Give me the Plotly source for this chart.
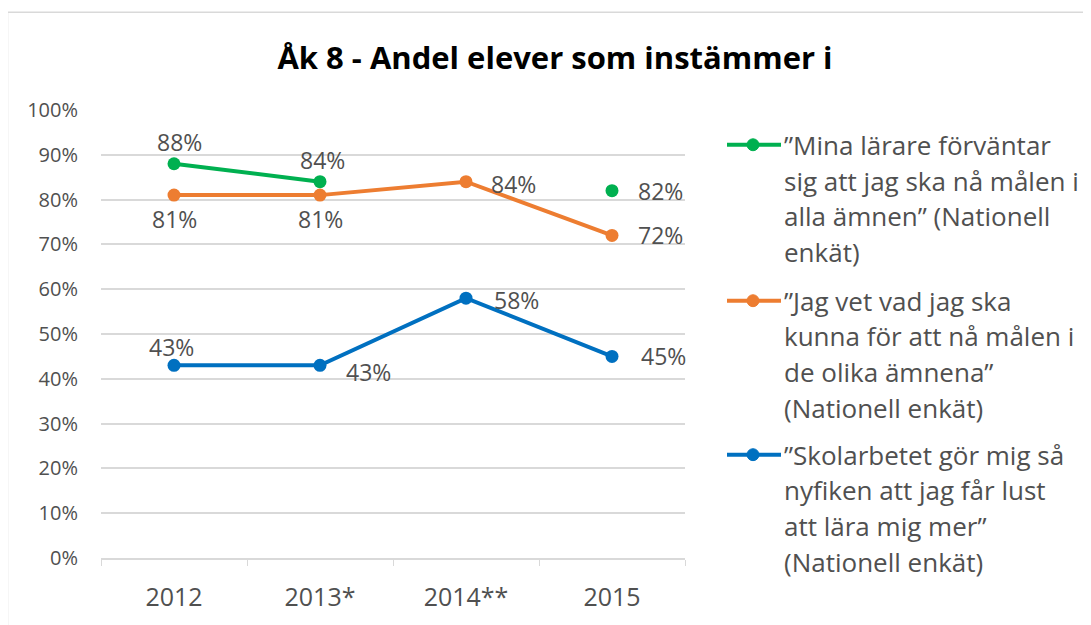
import plotly.graph_objects as go

categories = ["2012", "2013*", "2014**", "2015"]
green_vals = [88, 84, None, 82]
orange_vals = [81, 81, 84, 72]
blue_vals = [43, 43, 58, 45]
y_ticks = [0, 10, 20, 30, 40, 50, 60, 70, 80, 90, 100]
y_tick_labels = [f"{v}%" for v in y_ticks]

series_names = [
    "”Mina lärare förväntar<br>sig att jag ska nå målen i<br>alla ämnen” (Nationell<br>enkät)",
    "”Jag vet vad jag ska<br>kunna för att nå målen i<br>de olika ämnena”<br>(Nationell enkät)",
    "”Skolarbetet gör mig så<br>nyfiken att jag får lust<br>att lära mig mer”<br>(Nationell enkät)",
]
colors = ["#00b050", "#ed7d31", "#0070c0"]
# label placement per point: (side, dx, dy)
label_pos = [
    [("top", 5, 22), ("top", 2, 22), None, ("right", 24, 0)],
    [("bottom", 0, -24), ("bottom", 0, -24), ("right", 23, -2), ("right", 24, 0)],
    [("top", -3, 18), ("right", 24, -7), ("right", 26, -2), ("right", 27, 0)],
]
all_vals = [green_vals, orange_vals, blue_vals]

FONT = "Open Sans"
TXT = "#505050"
OFF = 8  # page body margin
W, H = 1091 - OFF, 625 - OFF
L, R, T, B = 101 - OFF, 685 - OFF, 110 - OFF, 561 - OFF

fig = go.Figure()
for vals, col, name in zip(all_vals, colors, series_names):
    fig.add_trace(go.Scatter(
        x=categories, y=vals, name=name,
        mode="lines+markers",
        line=dict(color=col, width=4),
        marker=dict(color=col, size=13),
        connectgaps=False,
        showlegend=False,
        cliponaxis=False,
    ))

def px2x(px):
    return (px - OFF - L) / (R - L)

def py2y(py):
    return (B - (py - OFF)) / (B - T)

shapes = []
annotations = []
# data labels
for vals, lp in zip(all_vals, label_pos):
    for idx, (v, p) in enumerate(zip(vals, lp)):
        if v is None or p is None:
            continue
        side, dx, dy = p
        annotations.append(dict(
            x=idx, y=v, xref="x", yref="y", text=f"{v}%", showarrow=False,
            xanchor="left" if side == "right" else "center", yanchor="middle",
            xshift=dx, yshift=dy, font=dict(family=FONT, size=23, color=TXT)))

# outer border
shapes.append(dict(type="rect", xref="paper", yref="paper",
                   x0=px2x(7.5), x1=px2x(1100), y0=py2y(640), y1=py2y(11.5),
                   line=dict(color="#d9d9d9", width=1.5), fillcolor="rgba(0,0,0,0)", layer="below"))

# manual legend
first_line_y = [145, 302, 457]
line_gap = 36
for name, col, y0 in zip(series_names, colors, first_line_y):
    shapes.append(dict(type="line", xref="paper", yref="paper",
                       x0=px2x(727), x1=px2x(781), y0=py2y(y0), y1=py2y(y0),
                       line=dict(color=col, width=4)))
    shapes.append(dict(type="circle", xref="paper", yref="paper",
                       x0=px2x(747), x1=px2x(759), y0=py2y(y0 + 6), y1=py2y(y0 - 6),
                       line=dict(color=col, width=1), fillcolor=col))
    for i, line in enumerate(name.split("<br>")):
        annotations.append(dict(xref="paper", yref="paper", x=px2x(782), y=py2y(y0 + i * line_gap),
                                text=line, showarrow=False, xanchor="left", yanchor="middle",
                                font=dict(family=FONT, size=26, color=TXT)))

fig.update_layout(
    width=W, height=H,
    margin=dict(l=L, r=W - R, t=T, b=H - B),
    paper_bgcolor="white", plot_bgcolor="white",
    title=dict(text="<b>Åk 8 - Andel elever som instämmer i</b>", x=(555 - OFF) / W, xanchor="center",
               y=1 - (58 - OFF) / H, yanchor="middle",
               font=dict(family=FONT, size=31, color="black")),
    font=dict(family=FONT, color=TXT),
    shapes=shapes, annotations=annotations,
    xaxis=dict(type="category", range=[-0.5, 3.5], tickson="boundaries", ticks="outside",
               ticklen=6, tickcolor="#d9d9d9", showline=True, linecolor="#d9d9d9", linewidth=1.5,
               showgrid=False, tickfont=dict(family=FONT, size=25, color=TXT), ticklabelstandoff=16),
    yaxis=dict(range=[0, 100], tickvals=y_ticks, ticktext=y_tick_labels, showgrid=True,
               gridcolor="#d9d9d9", gridwidth=1.5, zeroline=False, showline=False,
               tickfont=dict(family=FONT, size=20, color=TXT), ticklabelstandoff=22),
)

fig.write_html("out.html")
